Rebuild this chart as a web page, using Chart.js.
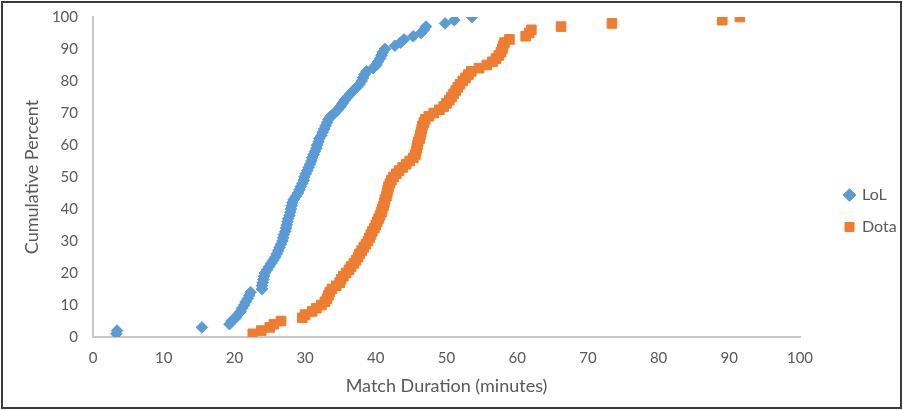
<!DOCTYPE html>
<html><head><meta charset="utf-8">
<script src="https://cdn.jsdelivr.net/npm/chart.js@4/dist/chart.umd.min.js"></script>
<style>
html,body{margin:0;padding:0;background:#fff;}
#wrap{position:relative;width:903px;height:410px;overflow:hidden;background:#fff;}
#frame{position:absolute;left:1px;top:1px;width:897px;height:404px;border:2px solid #3b3b3b;pointer-events:none;}
canvas{position:absolute;left:0;top:0;}
</style></head><body>
<div id="wrap"><canvas id="c" width="903" height="410"></canvas><div id="frame"></div></div>
<script>
const seriesNames = ["LoL", "Dota"];
const lolMinutes = [3.3,3.4,15.4,19.3,19.6,20.2,20.5,20.9,21.1,21.4,21.6,21.9,22.1,22.3,23.9,23.9,24.0,24.1,24.2,24.3,24.6,24.9,25.2,25.5,25.8,26.0,26.2,26.4,26.6,26.8,26.9,27.0,27.2,27.3,27.4,27.5,27.6,27.8,27.9,28.0,28.1,28.2,28.4,28.7,29.0,29.2,29.4,29.6,29.8,29.9,30.1,30.3,30.5,30.7,30.9,31.0,31.2,31.4,31.6,31.7,31.9,32.0,32.3,32.5,32.7,32.9,33.1,33.3,33.6,34.2,34.6,35.0,35.3,35.6,36.0,36.4,36.8,37.3,37.7,38.0,38.2,38.4,38.7,39.6,40.1,40.3,40.6,40.8,41.0,41.3,42.7,43.5,44.0,45.3,46.4,46.8,47.1,49.8,51.1,53.6];
const lolPercent = [1,2,3,4,5,6,7,8,9,10,11,12,13,14,15,16,17,18,19,20,21,22,23,24,25,26,27,28,29,30,31,32,33,34,35,36,37,38,39,40,41,42,43,44,45,46,47,48,49,50,51,52,53,54,55,56,57,58,59,60,61,62,63,64,65,66,67,68,69,70,71,72,73,74,75,76,77,78,79,80,81,82,83,84,85,86,87,88,89,90,91,92,93,94,95,96,97,98,99,100];
const dotaMinutes = [22.6,23.8,25.0,25.6,26.6,29.6,30.0,31.0,31.6,32.3,32.8,33.1,33.3,33.5,33.8,34.4,34.9,35.1,35.4,35.8,36.2,36.5,36.9,37.2,37.5,37.7,38.0,38.3,38.6,38.9,39.1,39.3,39.5,39.8,40.0,40.2,40.4,40.6,40.8,40.9,41.1,41.2,41.3,41.5,41.6,41.7,41.8,42.0,42.2,42.5,42.9,43.3,43.8,44.3,44.8,45.3,45.6,45.7,45.8,45.9,46.0,46.2,46.3,46.4,46.5,46.6,46.8,47.0,47.5,48.2,49.0,49.6,50.0,50.4,50.7,51.0,51.3,51.6,51.9,52.3,52.7,53.1,53.5,54.6,55.7,56.5,57.0,57.4,57.7,57.9,58.0,58.2,58.9,61.2,61.7,62.0,66.2,73.4,89.0,91.5];
const dotaPercent = [1,2,3,4,5,6,7,8,9,10,11,12,13,14,15,16,17,18,19,20,21,22,23,24,25,26,27,28,29,30,31,32,33,34,35,36,37,38,39,40,41,42,43,44,45,46,47,48,49,50,51,52,53,54,55,56,57,58,59,60,61,62,63,64,65,66,67,68,69,70,71,72,73,74,75,76,77,78,79,80,81,82,83,84,85,86,87,88,89,90,91,92,93,94,95,96,97,98,99,100];
const xTickValues = [0,10,20,30,40,50,60,70,80,90,100];
const yTickValues = [0,10,20,30,40,50,60,70,80,90,100];
const xTitle = "Match Duration (minutes)";
const yTitle = "Cumulative Percent";

const FONT = "Lato, 'Liberation Sans', sans-serif";
const TXT = "#595959";
const AXIS = "#c8c8c8";
const PLOT = {left: 93, right: 800, top: 17, bottom: 337};
const W = 903, H = 410;

const legendShift = {
  id: 'legendShift',
  beforeLayout(chart) {
    const lg = chart.legend;
    if (lg && !lg._patched) {
      const f = lg.fit.bind(lg);
      lg.fit = function () { f(); this.width = W - PLOT.right; };
      lg._patched = true;
    }
  },
  afterLayout(chart) {
    const lg = chart.legend;
    if (!lg) return;
    const dx = 829 - lg.left;
    lg.left += dx; lg.right += dx;
    const dy = 195 - 17 - (lg.top + lg.bottom) / 2 + 16 + 17;
    lg.top += dy; lg.bottom += dy;
  }
};

new Chart(document.getElementById('c'), {
  type: 'scatter',
  data: {
    datasets: [
      {
        label: seriesNames[0],
        data: lolMinutes.map((m, i) => ({x: m, y: lolPercent[i]})),
        pointStyle: 'rectRot',
        pointRadius: 5.8,
        backgroundColor: '#5B9BD5',
        borderColor: '#5B9BD5',
        borderWidth: 1,
        showLine: false
      },
      {
        label: seriesNames[1],
        data: dotaMinutes.map((m, i) => ({x: m, y: dotaPercent[i]})),
        pointStyle: 'rect',
        pointRadius: 6.8,
        backgroundColor: '#ED7D31',
        borderColor: '#ED7D31',
        borderWidth: 1,
        showLine: false
      }
    ]
  },
  options: {
    responsive: false,
    animation: false,
    layout: {padding: {left: 0, top: PLOT.top, right: 0, bottom: 0}},
    plugins: {
      tooltip: {enabled: false},
      legend: {
        position: 'right',
        labels: {
          usePointStyle: true,
          boxWidth: 9,
          boxHeight: 9,
          padding: 16,
          color: TXT,
          font: {family: FONT, size: 16}
        }
      }
    },
    scales: {
      x: {
        type: 'linear',
        min: 0, max: 100,
        afterBuildTicks: s => { s.ticks = xTickValues.map(v => ({value: v})); },
        afterFit: s => { s.height = H - PLOT.bottom; },
        grid: {display: false, drawTicks: false},
        border: {display: true, color: AXIS, width: 2},
        ticks: {color: TXT, padding: 12, font: {family: FONT, size: 15}, maxRotation: 0},
        title: {display: true, text: xTitle, color: TXT, font: {family: FONT, size: 18}, padding: {top: 0, bottom: 13}}
      },
      y: {
        type: 'linear',
        min: 0, max: 100,
        afterBuildTicks: s => { s.ticks = yTickValues.map(v => ({value: v})); },
        afterFit: s => { s.width = PLOT.left; },
        grid: {display: false, drawTicks: true, tickLength: 12},
        border: {display: true, color: AXIS, width: 2},
        ticks: {color: TXT, padding: 3, font: {family: FONT, size: 15}},
        title: {display: true, text: yTitle, color: TXT, font: {family: FONT, size: 18}, padding: {top: 21, bottom: 0}}
      }
    }
  },
  plugins: [legendShift]
});
</script>
</body></html>
